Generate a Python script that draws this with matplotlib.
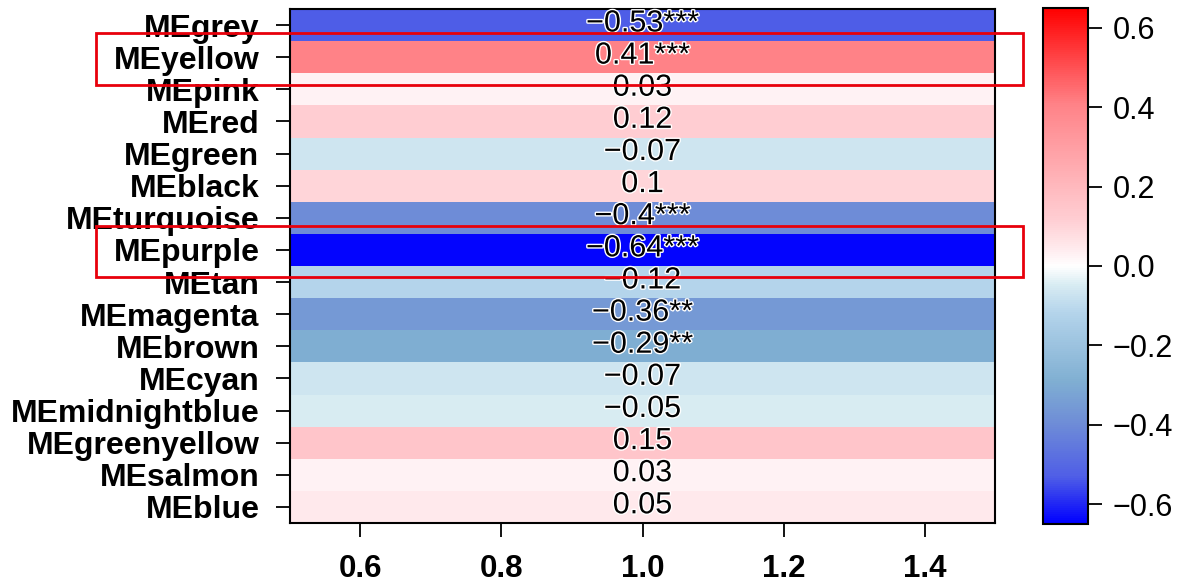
"""
Module eigengene - trait correlation heatmap
"""
import matplotlib
matplotlib.use('Agg')
import matplotlib.pyplot as plt
import matplotlib.patheffects as pe
import numpy as np
from matplotlib.colors import LinearSegmentedColormap, Normalize
from matplotlib.patches import Rectangle
from matplotlib.transforms import blended_transform_factory

# Data: module eigengenes, correlation with trait, significance stars
MODULES = ['MEgrey', 'MEyellow', 'MEpink', 'MEred', 'MEgreen', 'MEblack',
           'MEturquoise', 'MEpurple', 'MEtan', 'MEmagenta', 'MEbrown',
           'MEcyan', 'MEmidnightblue', 'MEgreenyellow', 'MEsalmon', 'MEblue']
COR = [-0.53, 0.41, 0.03, 0.12, -0.07, 0.1, -0.4, -0.64,
       -0.12, -0.36, -0.29, -0.07, -0.05, 0.15, 0.03, 0.05]
STARS = ['***', '***', '', '', '', '', '***', '***',
         '', '**', '**', '', '', '', '', '']
HIGHLIGHT = ['MEyellow', 'MEpurple']
CBAR_TICKS = [-0.6, -0.4, -0.2, 0.0, 0.2, 0.4, 0.6]
X_TICKS = [0.6, 0.8, 1.0, 1.2, 1.4]

# Plot settings
FONT = 'Liberation Sans'
VLIM = 0.65
plt.rcParams['font.family'] = [FONT, 'DejaVu Sans']

# blue - light blue - white - pink - red ramp
ramp = [(-0.65, (0, 0, 255)), (-0.53, (80, 95, 230)), (-0.40, (110, 140, 215)),
        (-0.29, (128, 175, 210)), (-0.12, (180, 212, 235)), (-0.05, (215, 235, 242)),
        (0.0, (255, 255, 255)), (0.05, (255, 232, 235)), (0.12, (255, 205, 210)),
        (0.41, (255, 130, 135)), (0.65, (255, 0, 0))]
cmap = LinearSegmentedColormap.from_list(
    'bwr_me', [((v + VLIM) / (2 * VLIM), tuple(c / 255 for c in rgb)) for v, rgb in ramp])
norm = Normalize(vmin=-VLIM, vmax=VLIM)


def fmt(v):
    return ('%g' % v).replace('-', '\u2212')


fig = plt.figure(figsize=(11.85, 5.86), dpi=100, facecolor='w')
ax = fig.add_axes([0.2447, 0.1075, 0.5950, 0.8771])
cax = fig.add_axes([0.8800, 0.1060, 0.0380, 0.8805])

n = len(MODULES)
vals = np.array(COR).reshape(-1, 1)
mesh = ax.pcolormesh([0.5, 1.5], np.arange(n + 1), vals, cmap=cmap, norm=norm)
ax.set_xlim(0.5, 1.5)
ax.set_ylim(n, 0)

halo = [pe.withStroke(linewidth=2, foreground='white')]
for i, (v, s) in enumerate(zip(COR, STARS)):
    ax.text(1.0, i + 0.45, fmt(v) + s, ha='center', va='center', fontsize=22,
            color='black', path_effects=halo)

ax.set_yticks(np.arange(n) + 0.5)
ax.set_yticklabels(MODULES, fontsize=23, fontweight='bold')
ax.set_xticks(X_TICKS)
ax.set_xticklabels(['%.1f' % x for x in X_TICKS], fontsize=22.5, fontweight='bold')
ax.tick_params(axis='y', length=10, width=1.3, pad=12)
ax.tick_params(axis='x', length=10, width=1.3, pad=12)
for sp in ax.spines.values():
    sp.set_linewidth(1.5)

# Colour key
cb = fig.colorbar(mesh, cax=cax)
cb.set_ticks(CBAR_TICKS)
cb.ax.yaxis.set_ticklabels([('%.1f' % t).replace('-', '\u2212') for t in CBAR_TICKS])
cax.tick_params(labelsize=22, length=10, width=1.3, pad=8)
cb.outline.set_linewidth(1.5)

# Boxes around the highlighted modules
trans = blended_transform_factory(fig.transFigure, ax.transData)
for name in HIGHLIGHT:
    i = MODULES.index(name)
    fig.add_artist(Rectangle((0.081, i + 0.55 - 0.8), 0.782, 1.6, transform=trans,
                             fill=False, edgecolor='#e8000b', linewidth=2.0,
                             clip_on=False))

plt.savefig('out.png', dpi=100)
plt.close(fig)
